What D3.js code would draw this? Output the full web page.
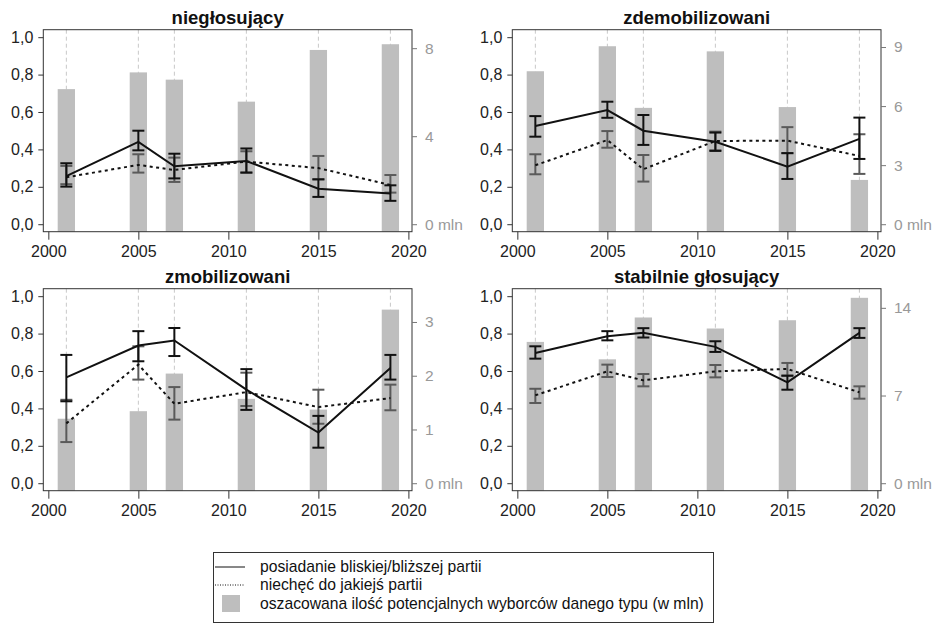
<!DOCTYPE html>
<html>
<head>
<meta charset="utf-8">
<script src="https://cdn.jsdelivr.net/npm/d3@7"></script>
<style>
  body { margin: 0; background: #fff; }
  svg { font-family: Arial, "Liberation Sans", sans-serif; }
</style>
</head>
<body>
<div id="chart"></div>
<script>

//Data - years of the surveys
var years = [2001, 2005, 2007, 2011, 2015, 2019];

var titles = ["niegłosujący", "zdemobilizowani", "zmobilizowani", "stabilnie głosujący"];

//posiadanie bliskiej/bliższej partii (solid) - mean, lower, upper
var party_niegl = [0.257, 0.44, 0.31, 0.338, 0.19, 0.164];
var partyLo_niegl = [0.201, 0.395, 0.245, 0.276, 0.146, 0.125];
var partyHi_niegl = [0.326, 0.50, 0.377, 0.405, 0.24, 0.208];

var party_zdem = [0.525, 0.61, 0.50, 0.441, 0.308, 0.456];
var partyLo_zdem = [0.468, 0.569, 0.424, 0.392, 0.242, 0.349];
var partyHi_zdem = [0.578, 0.655, 0.584, 0.49, 0.38, 0.57];

var party_zmob = [0.566, 0.736, 0.763, 0.50, 0.271, 0.616];
var partyLo_zmob = [0.438, 0.652, 0.68, 0.392, 0.19, 0.554];
var partyHi_zmob = [0.686, 0.813, 0.83, 0.61, 0.36, 0.686];

var party_stab = [0.696, 0.786, 0.804, 0.729, 0.539, 0.804];
var partyLo_stab = [0.666, 0.764, 0.779, 0.702, 0.50, 0.777];
var partyHi_stab = [0.732, 0.813, 0.829, 0.759, 0.575, 0.829];

//niechęć do jakiejś partii (dotted) - mean, lower, upper
var dislike_niegl = [0.251, 0.317, 0.29, 0.335, 0.30, 0.21];
var dislikeLo_niegl = [0.214, 0.276, 0.226, 0.276, 0.24, 0.169];
var dislikeHi_niegl = [0.312, 0.374, 0.356, 0.39, 0.365, 0.263];

var dislike_zdem = [0.315, 0.45, 0.294, 0.445, 0.447, 0.365];
var dislikeLo_zdem = [0.267, 0.409, 0.228, 0.395, 0.38, 0.269];
var dislikeHi_zdem = [0.374, 0.498, 0.37, 0.495, 0.519, 0.481];

var dislike_zmob = [0.32, 0.634, 0.425, 0.487, 0.407, 0.455];
var dislikeLo_zmob = [0.22, 0.554, 0.34, 0.413, 0.318, 0.39];
var dislikeHi_zmob = [0.446, 0.732, 0.514, 0.591, 0.5, 0.527];

var dislike_stab = [0.47, 0.598, 0.55, 0.598, 0.611, 0.486];
var dislikeLo_stab = [0.429, 0.568, 0.518, 0.566, 0.575, 0.452];
var dislikeHi_stab = [0.505, 0.634, 0.584, 0.632, 0.643, 0.518];

//oszacowana ilość wyborców (mln) - bars
var voters_niegl = [6.14, 6.9, 6.57, 5.57, 7.92, 8.18];
var voters_zdem = [7.77, 9.04, 5.91, 8.78, 5.95, 2.25];
var voters_zmob = [1.2, 1.34, 2.04, 1.57, 1.37, 3.23];
var voters_stab = [11.28, 9.89, 13.23, 12.35, 13.01, 14.8];

//Right axis: value at the 1,0 level and tick values
var rightMax = [8.5, 9.5, 3.48, 14.93];
var rightTicks = [[0, 4, 8], [0, 3, 6, 9], [0, 1, 2, 3], [0, 7, 14]];

var xTicks = [2000, 2005, 2010, 2015, 2020];
var yTicks = [0, 0.2, 0.4, 0.6, 0.8, 1.0];

var legendLabels = ["posiadanie bliskiej/bliższej partii",
                    "niechęć do jakiejś partii",
                    "oszacowana ilość potencjalnych wyborców danego typu (w mln)"];


//Building the panel table
var panels = [
    {party: party_niegl, lo: partyLo_niegl, hi: partyHi_niegl, dis: dislike_niegl, dlo: dislikeLo_niegl, dhi: dislikeHi_niegl, bars: voters_niegl},
    {party: party_zdem, lo: partyLo_zdem, hi: partyHi_zdem, dis: dislike_zdem, dlo: dislikeLo_zdem, dhi: dislikeHi_zdem, bars: voters_zdem},
    {party: party_zmob, lo: partyLo_zmob, hi: partyHi_zmob, dis: dislike_zmob, dlo: dislikeLo_zmob, dhi: dislikeHi_zmob, bars: voters_zmob},
    {party: party_stab, lo: partyLo_stab, hi: partyHi_stab, dis: dislike_stab, dlo: dislikeLo_stab, dhi: dislikeHi_stab, bars: voters_stab}
];


//SVG size and panel geometry
var width = 938,
    height = 624;
var box = {left: 43.3, right: 412, top: 29.7, bottom: 231.7};
var offX = [0, 469, 0, 469],
    offY = [0, 0, 259, 259];
var barW = 17.3,
    capW = 6;

var svg = d3.select("#chart")
    .append("svg")
    .attr("width", width)
    .attr("height", height);

//Scales shared by the panels
var xScale = d3.scaleLinear()
    .domain([1999.72, 2020.2])
    .range([box.left, box.right]);

var yScale = d3.scaleLinear()
    .domain([-0.04, 1.04])
    .range([box.bottom, box.top]);

var fmtComma = function(d) { return d3.format(".1f")(d).replace(".", ","); };


panels.forEach(function(p, k) {
    var g = svg.append("g")
        .attr("transform", "translate(" + offX[k] + "," + offY[k] + ")");

    var rScale = d3.scaleLinear()
        .domain([-0.04 * rightMax[k], 1.04 * rightMax[k]])
        .range([box.bottom, box.top]);

    // dashed vertical lines at survey years
    g.selectAll("line.grid")
        .data(years)
        .enter()
        .append("line")
        .attr("class", "grid")
        .attr("x1", function(d) { return xScale(d); })
        .attr("x2", function(d) { return xScale(d); })
        .attr("y1", box.top)
        .attr("y2", box.bottom)
        .attr("stroke", "#c8c8c8")
        .attr("stroke-width", 1)
        .attr("stroke-dasharray", "4,3");

    // bars
    g.selectAll("rect.bar")
        .data(p.bars)
        .enter()
        .append("rect")
        .attr("class", "bar")
        .attr("x", function(d, i) { return xScale(years[i]) - barW / 2; })
        .attr("width", barW)
        .attr("y", function(d) { return rScale(d); })
        .attr("height", function(d) { return box.bottom - rScale(d); })
        .attr("fill", "#bebebe");

    // error bars
    function errorBars(lo, hi, color) {
        var eb = g.append("g")
            .attr("stroke", color)
            .attr("stroke-width", 2)
            .attr("fill", "none");
        years.forEach(function(yr, i) {
            var x = xScale(yr);
            eb.append("line")
                .attr("x1", x).attr("x2", x)
                .attr("y1", yScale(lo[i])).attr("y2", yScale(hi[i]));
            eb.append("line")
                .attr("x1", x - capW).attr("x2", x + capW)
                .attr("y1", yScale(lo[i])).attr("y2", yScale(lo[i]));
            eb.append("line")
                .attr("x1", x - capW).attr("x2", x + capW)
                .attr("y1", yScale(hi[i])).attr("y2", yScale(hi[i]));
        });
    }
    errorBars(p.dlo, p.dhi, "#5a5a5a");
    errorBars(p.lo, p.hi, "#111");

    var line = d3.line()
        .x(function(d, i) { return xScale(years[i]); })
        .y(function(d) { return yScale(d); });

    // dotted line
    g.append("path")
        .datum(p.dis)
        .attr("d", line)
        .attr("fill", "none")
        .attr("stroke", "#111")
        .attr("stroke-width", 2)
        .attr("stroke-dasharray", "3,3.5");

    // solid line
    g.append("path")
        .datum(p.party)
        .attr("d", line)
        .attr("fill", "none")
        .attr("stroke", "#111")
        .attr("stroke-width", 2);

    // frame
    g.append("rect")
        .attr("x", box.left)
        .attr("y", box.top)
        .attr("width", box.right - box.left)
        .attr("height", box.bottom - box.top)
        .attr("fill", "none")
        .attr("stroke", "#333")
        .attr("stroke-width", 1);

    // left axis
    var yAxis = d3.axisLeft(yScale)
        .tickValues(yTicks)
        .tickSize(5)
        .tickPadding(5)
        .tickFormat(fmtComma);
    var ya = g.append("g")
        .attr("transform", "translate(" + box.left + ",0)")
        .call(yAxis);
    ya.select(".domain").remove();
    ya.selectAll("line").attr("stroke", "#333");
    ya.selectAll("text").attr("fill", "#222").style("font-size", "16px");

    // bottom axis
    var xAxis = d3.axisBottom(xScale)
        .tickValues(xTicks)
        .tickSize(8)
        .tickPadding(6)
        .tickFormat(d3.format("d"));
    var xa = g.append("g")
        .attr("transform", "translate(0," + box.bottom + ")")
        .call(xAxis);
    xa.select(".domain").remove();
    xa.selectAll("line").attr("stroke", "#333");
    xa.selectAll("text").attr("fill", "#222").style("font-size", "16px");

    // right axis
    var rAxis = d3.axisRight(rScale)
        .tickValues(rightTicks[k])
        .tickSize(5)
        .tickPadding(8)
        .tickFormat(function(d) { return d === 0 ? "0 mln" : d; });
    var ra = g.append("g")
        .attr("transform", "translate(" + box.right + ",0)")
        .call(rAxis);
    ra.select(".domain").remove();
    ra.selectAll("line").attr("stroke", "#777");
    ra.selectAll("text").attr("fill", "#999").style("font-size", "15.5px");

    // title
    g.append("text")
        .text(titles[k])
        .attr("x", (box.left + box.right) / 2)
        .attr("y", 24)
        .attr("text-anchor", "middle")
        .style("font-size", "18.5px")
        .style("font-weight", "bold")
        .attr("fill", "#111");
});


//Legend
var legend = svg.append("g")
    .attr("transform", "translate(213,552)");

legend.append("rect")
    .attr("x", 0.5)
    .attr("y", 0.5)
    .attr("width", 500)
    .attr("height", 70)
    .attr("fill", "#fff")
    .attr("stroke", "#333");

legend.append("line")
    .attr("x1", 2).attr("x2", 32)
    .attr("y1", 15).attr("y2", 15)
    .attr("stroke", "#111")
    .attr("stroke-width", 1);

legend.append("line")
    .attr("x1", 2).attr("x2", 32)
    .attr("y1", 33).attr("y2", 33)
    .attr("stroke", "#111")
    .attr("stroke-width", 1)
    .attr("stroke-dasharray", "1,1.5");

legend.append("rect")
    .attr("x", 9).attr("y", 43)
    .attr("width", 18).attr("height", 17)
    .attr("fill", "#bebebe");

legend.selectAll("text")
    .data(legendLabels)
    .enter()
    .append("text")
    .text(function(d) { return d; })
    .attr("x", 47)
    .attr("y", function(d, i) { return 20 + i * 18.3; })
    .style("font-size", "15.7px")
    .attr("fill", "#111");

</script>
</body>
</html>
